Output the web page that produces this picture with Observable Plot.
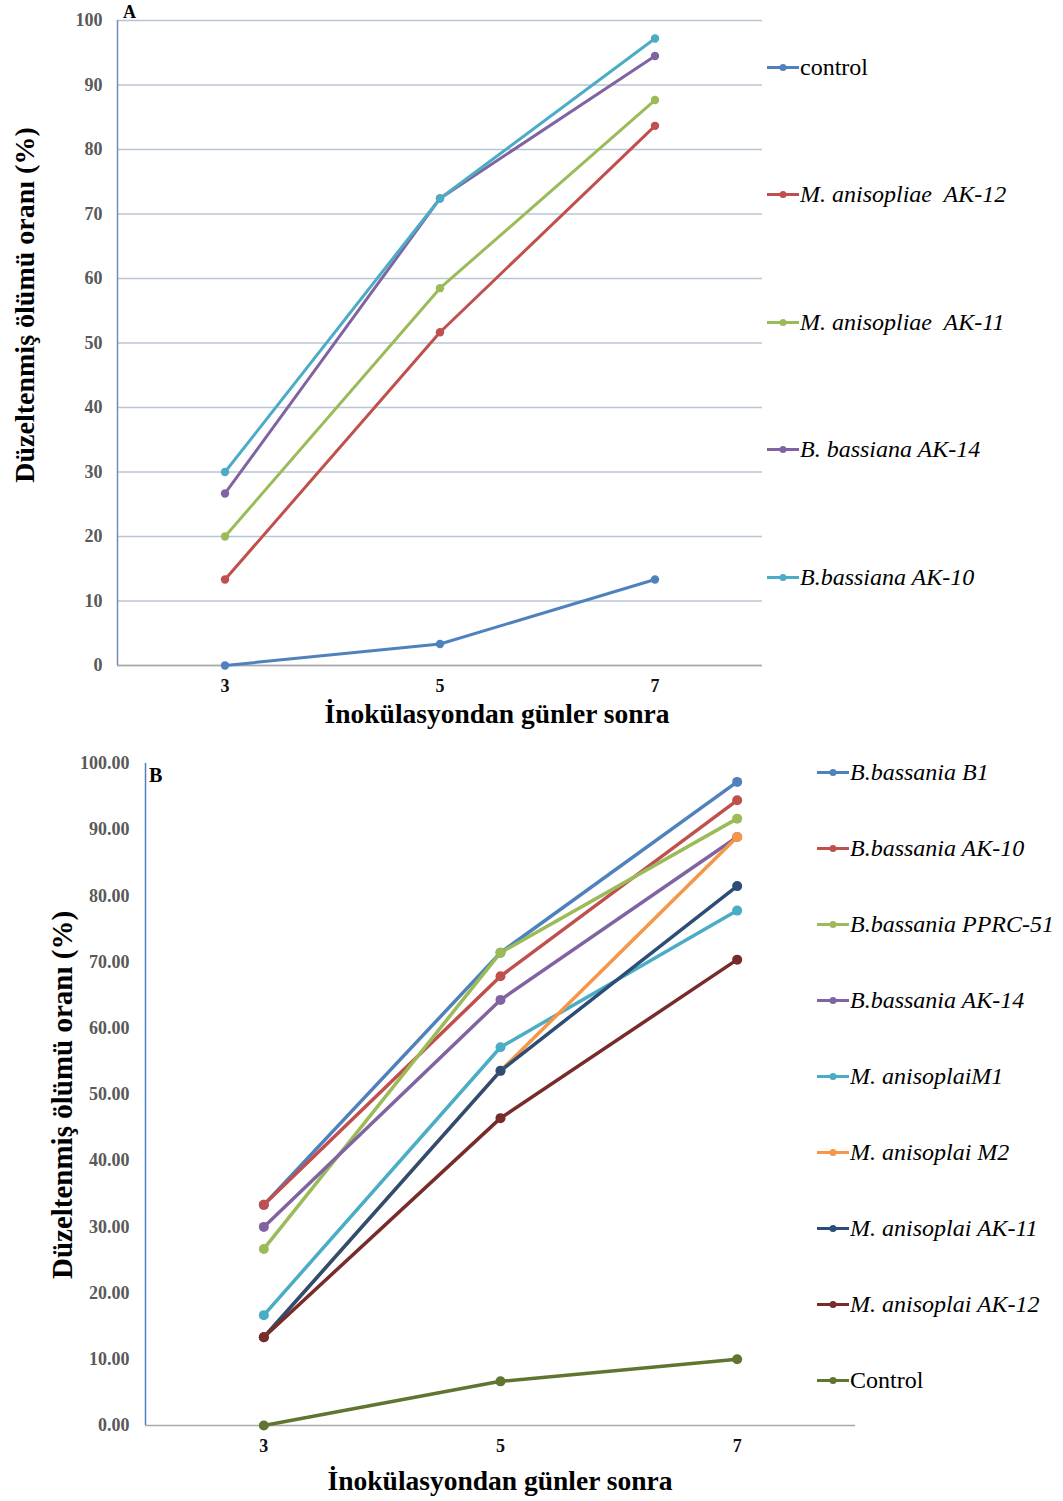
<!DOCTYPE html>
<html>
<head>
<meta charset="utf-8">
<script src="https://cdn.jsdelivr.net/npm/d3@7"></script>
<script src="https://cdn.jsdelivr.net/npm/@observablehq/plot@0.6"></script>
<style>
  html, body { margin: 0; padding: 0; background: #fff; }
  #root { position: relative; width: 1063px; height: 1501px; font-family: "Liberation Serif", "Times New Roman", serif; }
  .abs { position: absolute; white-space: pre; }
  .ytitle { font-weight: bold; font-size: 28px; color: #000; transform: translate(-50%, -50%) rotate(-90deg); }
  .xtitle { font-weight: bold; font-size: 27.5px; color: #000; transform: translate(-50%, -50%); }
  .leg { display: flex; align-items: center; font-size: 24px; color: #000; transform: translateY(-50%); }
  .leg svg { display: block; margin-right: 1px; }
  .it { font-style: italic; }
</style>
</head>
<body>
<div id="root"></div>
<script>
// ---------- Data ----------
const days = [3, 5, 7];

// Panel A
const namesA = ["control", "M. anisopliae  AK-12", "M. anisopliae  AK-11", "B. bassiana AK-14", "B.bassiana AK-10"];
const controlA = [0, 3.33, 13.33];
const mAK12A = [13.33, 51.67, 83.67];
const mAK11A = [20.0, 58.5, 87.67];
const bAK14A = [26.67, 72.41, 94.5];
const bAK10A = [30.0, 72.41, 97.22];
const valuesA = [controlA, mAK12A, mAK11A, bAK14A, bAK10A];
const colorsA = ["#4F81BD", "#C0504D", "#9BBB59", "#8064A2", "#4BACC6"];
const yTicksA = [0, 10, 20, 30, 40, 50, 60, 70, 80, 90, 100];

// Panel B
const namesB = ["B.bassania B1", "B.bassania AK-10", "B.bassania PPRC-51", "B.bassania AK-14", "M. anisoplaiM1", "M. anisoplai M2", "M. anisoplai AK-11", "M. anisoplai AK-12", "Control"];
const b1B = [33.33, 71.43, 97.22];
const bAK10B = [33.33, 67.86, 94.44];
const pprcB = [26.67, 71.43, 91.67];
const bAK14B = [30.0, 64.29, 88.89];
const m1B = [16.67, 57.14, 77.78];
const m2B = [13.33, 53.57, 88.89];
const mAK11B = [13.33, 53.57, 81.48];
const mAK12B = [13.33, 46.43, 70.37];
const controlB = [0, 6.67, 10.0];
const valuesB = [b1B, bAK10B, pprcB, bAK14B, m1B, m2B, mAK11B, mAK12B, controlB];
const colorsB = ["#4F81BD", "#C0504D", "#9BBB59", "#8064A2", "#4BACC6", "#F79646", "#2C4D75", "#772C2A", "#5F7530"];
const yTicksB = [0, 10, 20, 30, 40, 50, 60, 70, 80, 90, 100];

const yTitle = "Düzeltenmiş ölümü oranı (%)";
const xTitle = "İnokülasyondan günler sonra";

function toRows(names, values) {
  const rows = [];
  names.forEach((n, i) => values[i].forEach((v, j) => rows.push({series: n, day: days[j], value: v})));
  return rows;
}
const dataA = toRows(namesA, valuesA);
const dataB = toRows(namesB, valuesB);

const root = document.getElementById("root");
function place(el, left, top) {
  el.style.position = "absolute"; el.style.left = left + "px"; el.style.top = top + "px";
  root.appendChild(el);
}
function div(cls, text, left, top, extra) {
  const d = document.createElement("div");
  d.className = "abs " + cls;
  d.textContent = text;
  if (extra) Object.assign(d.style, extra);
  place(d, left, top);
  return d;
}

// ---------- Panel A ----------
const plotA = Plot.plot({
  width: 780, height: 740,
  marginLeft: 117, marginRight: 18, marginTop: 20, marginBottom: 75,
  style: {fontFamily: "Liberation Serif, serif", fontSize: "18px", fontWeight: "bold", background: "transparent"},
  x: {type: "linear", domain: [2, 8], axis: null},
  y: {domain: [0, 100], axis: null},
  color: {domain: namesA, range: colorsA},
  marks: [
    Plot.gridY(yTicksA, {stroke: "#b9c4d5", strokeOpacity: 1, strokeWidth: 1.5}),
    Plot.ruleY([0], {stroke: "#a9a9a9", strokeWidth: 1.5}),
    Plot.ruleX([2], {y1: 0, y2: 100, stroke: "#6f8db6", strokeWidth: 1.5}),
    Plot.axisY({ticks: yTicksA, tickSize: 0, tickPadding: 15, label: null, color: "#595959"}),
    Plot.axisX({ticks: days, tickSize: 0, tickPadding: 14, label: null, tickFormat: d => String(d), color: "#111"}),
    Plot.line(dataA, {x: "day", y: "value", z: "series", stroke: "series", strokeWidth: 3}),
    Plot.dot(dataA, {x: "day", y: "value", fill: "series", r: 4.2})
  ]
});
place(plotA, 0, 0);

div("", "A", 123, 2, {fontWeight: "bold", fontSize: "18px"});
div("ytitle", yTitle, 25, 305);
div("xtitle", xTitle, 497, 714);

function legendItem(name, color, italic, left, cy) {
  const d = document.createElement("div");
  d.className = "abs leg";
  d.innerHTML = `<svg width="32" height="10"><line x1="0" y1="5" x2="32" y2="5" stroke="${color}" stroke-width="3"/><circle cx="16" cy="5" r="3.5" fill="${color}"/></svg><span class="${italic ? "it" : ""}"></span>`;
  d.querySelector("span").textContent = name;
  place(d, left, cy);
}
const legYA = [67, 194, 322, 449, 577];
namesA.forEach((n, i) => legendItem(n, colorsA[i], i !== 0, 767, legYA[i]));

// ---------- Panel B ----------
const plotB = Plot.plot({
  width: 880, height: 761,
  marginLeft: 145, marginRight: 25, marginTop: 23, marginBottom: 76,
  style: {fontFamily: "Liberation Serif, serif", fontSize: "18px", fontWeight: "bold", background: "transparent"},
  x: {type: "linear", domain: [2, 8], axis: null},
  y: {domain: [0, 100], axis: null},
  color: {domain: namesB, range: colorsB},
  marks: [
    Plot.ruleY([0], {stroke: "#a9a9a9", strokeWidth: 1.5}),
    Plot.ruleX([2], {y1: 0, y2: 100, stroke: "#4F81BD", strokeWidth: 1.5}),
    Plot.axisY({ticks: yTicksB, tickSize: 0, tickPadding: 16, label: null, tickFormat: d => d.toFixed(2), color: "#595959"}),
    Plot.axisX({ticks: days, tickSize: 0, tickPadding: 14, label: null, tickFormat: d => String(d), color: "#111"}),
    Plot.line(dataB, {x: "day", y: "value", z: "series", stroke: "series", strokeWidth: 3.5}),
    Plot.dot(dataB, {x: "day", y: "value", fill: "series", r: 5})
  ]
});
place(plotB, 0, 740);

div("", "B", 149, 764, {fontWeight: "bold", fontSize: "20px"});
div("ytitle", yTitle, 62, 1095, {fontSize: "29px"});
div("xtitle", xTitle, 500, 1481);

const legYB = [772, 848, 924, 1000, 1076, 1152, 1228, 1304, 1380];
namesB.forEach((n, i) => legendItem(n, colorsB[i], i !== namesB.length - 1, 817, legYB[i]));
</script>
</body>
</html>
